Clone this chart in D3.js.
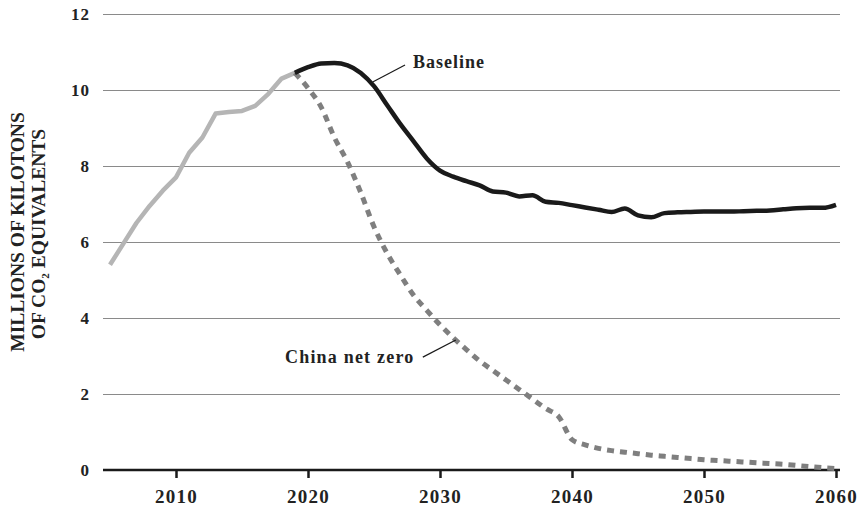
<!DOCTYPE html>
<html><head><meta charset="utf-8">
<script src="https://cdn.jsdelivr.net/npm/d3@7"></script>
<style>
body{margin:0;background:#fff;}
svg text{font-family:"Liberation Serif","DejaVu Serif",serif;font-weight:bold;fill:#222;}
</style></head>
<body><svg id="c" width="860" height="510"></svg>
<script>
const histYears = [2005,2006,2007,2008,2009,2010,2011,2012,2013,2014,2015,2016,2017,2018,2019];
const histValues = [5.4,5.95,6.5,6.95,7.35,7.7,8.35,8.75,9.38,9.42,9.45,9.58,9.9,10.3,10.45];
const projYears = d3.range(2019, 2061);
const baselineValues = [10.45,10.6,10.7,10.71,10.65,10.45,10.1,9.6,9.1,8.65,8.2,7.88,7.72,7.6,7.49,7.33,7.3,7.2,7.23,7.06,7.03,6.97,6.91,6.85,6.79,6.88,6.7,6.65,6.76,6.78,6.79,6.8,6.8,6.8,6.81,6.82,6.83,6.86,6.89,6.9,6.9,6.98];
const netZeroValues = [10.45,10.05,9.55,8.75,8.1,7.3,6.4,5.7,5.13,4.6,4.2,3.82,3.48,3.17,2.87,2.62,2.37,2.12,1.87,1.62,1.4,0.8,0.66,0.57,0.51,0.47,0.43,0.39,0.36,0.33,0.3,0.27,0.25,0.23,0.21,0.19,0.17,0.15,0.12,0.09,0.06,0.04];
const xTicks = [2010,2020,2030,2040,2050,2060];
const yTicks = [0,2,4,6,8,10,12];
const labels = ["Baseline","China net zero"];

const svg = d3.select("#c");
const x = d3.scaleLinear().domain([2005,2060]).range([110,836]);
const y = d3.scaleLinear().domain([0,12]).range([470,14]);
const gridL = 103, gridR = 840;

// y axis with gridlines
const ya = svg.append("g").attr("transform",`translate(${gridL},0)`)
  .call(d3.axisLeft(y).tickValues(yTicks).tickSize(-(gridR-gridL)).tickPadding(13));
ya.select(".domain").remove();
ya.selectAll(".tick line").attr("stroke","#8a8a8a").attr("stroke-width",1.2);
ya.selectAll(".tick text").attr("font-size",17).attr("letter-spacing",1).attr("fill","#222");

// x axis
const xa = svg.append("g").attr("transform","translate(0,470)")
  .call(d3.axisBottom(x).tickValues(xTicks).tickFormat(d3.format("d")).tickSize(8).tickPadding(12));
xa.select(".domain").remove();
xa.selectAll(".tick line").attr("stroke","#1a1a1a").attr("stroke-width",2.5);
xa.selectAll(".tick text").attr("font-size",19).attr("letter-spacing",1.2).attr("fill","#222");
svg.append("line").attr("x1",gridL).attr("x2",gridR).attr("y1",y(0)).attr("y2",y(0))
  .attr("stroke","#1a1a1a").attr("stroke-width",2.5);

const line = d3.line().x(d=>x(d[0])).y(d=>y(d[1])).curve(d3.curveMonotoneX);

svg.append("path").datum(histYears.map((d,i)=>[d,histValues[i]]))
  .attr("d",d3.line().x(d=>x(d[0])).y(d=>y(d[1]))).attr("fill","none")
  .attr("stroke","#b5b5b5").attr("stroke-width",4.5).attr("stroke-linejoin","round");

svg.append("path").datum(projYears.map((d,i)=>[d,netZeroValues[i]]))
  .attr("d",line).attr("fill","none")
  .attr("stroke","#7f7f7f").attr("stroke-width",5).attr("stroke-dasharray","7,6");

svg.append("path").datum(projYears.map((d,i)=>[d,baselineValues[i]]))
  .attr("d",line).attr("fill","none")
  .attr("stroke","#1a1a1a").attr("stroke-width",4.5).attr("stroke-linejoin","round");

// annotations
svg.append("line").attr("x1",x(2024.9)).attr("y1",y(10.21)).attr("x2",x(2027.35)).attr("y2",y(10.66))
  .attr("stroke","#1a1a1a").attr("stroke-width",1.2);
svg.append("text").attr("x",413).attr("y",68).attr("font-size",18).attr("letter-spacing",1).text(labels[0]);

svg.append("line").attr("x1",x(2028.7)).attr("y1",y(2.97)).attr("x2",x(2031.2)).attr("y2",y(3.42))
  .attr("stroke","#1a1a1a").attr("stroke-width",1.2);
svg.append("text").attr("x",285).attr("y",363).attr("font-size",18).attr("letter-spacing",1.2).text(labels[1]);

// y title
const yt = svg.append("text").attr("transform","translate(24,232) rotate(-90)")
  .attr("text-anchor","middle").attr("font-size",19.5);
yt.append("tspan").attr("x",0).attr("dy",0).text("MILLIONS OF KILOTONS");
const yt2 = svg.append("text").attr("transform","translate(44.5,234) rotate(-90)")
  .attr("text-anchor","middle").attr("font-size",19.5);
yt2.append("tspan").text("OF CO");
yt2.append("tspan").attr("font-size",11).attr("dy",4).text("2");
yt2.append("tspan").attr("dy",-4).text(" EQUIVALENTS");
</script></body></html>
